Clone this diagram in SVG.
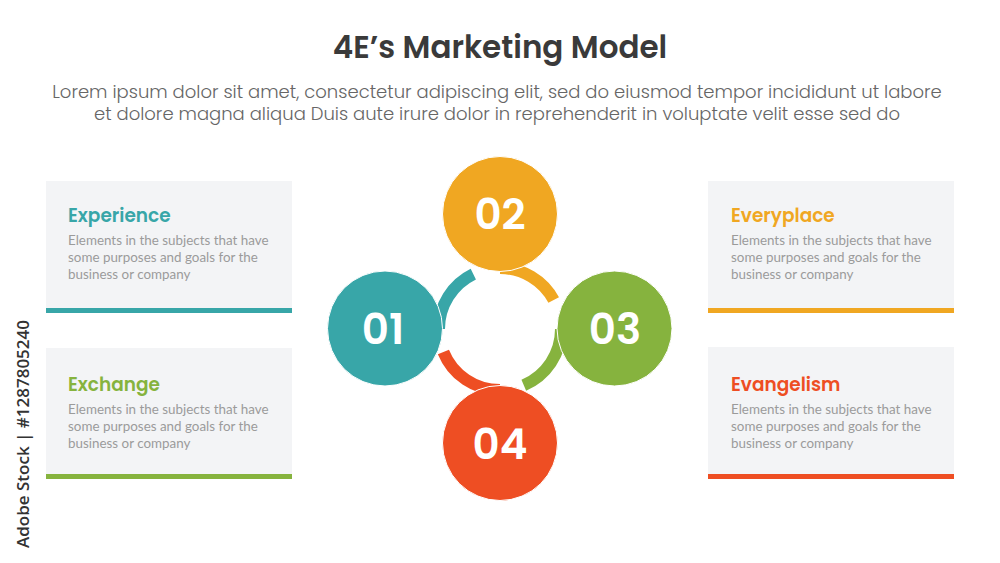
<svg xmlns="http://www.w3.org/2000/svg" width="1000" height="563" viewBox="0 0 1000 563">
<style>
.title{font-family:Poppins,"Open Sans","Liberation Sans",sans-serif;font-weight:600;font-size:31px;fill:#3a3a3a}
.sub{font-family:Poppins,"Open Sans","Liberation Sans",sans-serif;font-weight:300;font-size:18px;fill:#666}
.box{fill:#f3f4f6}
.head{font-family:Poppins,"Open Sans","Liberation Sans",sans-serif;font-weight:600;font-size:18.5px}
.desc{font-family:Lato,"Liberation Sans",sans-serif;font-size:13.4px;fill:#9b9b9b}
.num{font-family:Poppins,"Open Sans","Liberation Sans",sans-serif;font-weight:600;font-size:42px;fill:#fff;text-anchor:middle}
.arc{fill:none;stroke-width:12}
.wm{font-family:"Open Sans","Liberation Sans",sans-serif;font-weight:600;font-size:17px;fill:#333}
</style>
<rect width="1000" height="563" fill="#fff"/>
<text class="title" x="500" y="58" text-anchor="middle">4E’s Marketing Model</text>
<text class="sub" x="497" y="98" text-anchor="middle">Lorem ipsum dolor sit amet, consectetur adipiscing elit, sed do eiusmod tempor incididunt ut labore</text>
<text class="sub" x="497" y="120" text-anchor="middle">et dolore magna aliqua Duis aute irure dolor in reprehenderit in voluptate velit esse sed do</text>
<text class="wm" transform="translate(29,548) rotate(-90)">Adobe Stock | #1287805240</text>

<g id="connectors">
<path class="arc" stroke="#38a6a8" d="M439,329 A61,61 0 0 1 473.3,274.2"/>
<path class="arc" stroke="#f0a722" d="M500,268 A61,61 0 0 1 553.7,300"/>
<path class="arc" stroke="#86b33e" d="M561,329 A61,61 0 0 1 523.8,385.2"/>
<path class="arc" stroke="#ee4e23" d="M500,390 A61,61 0 0 1 443.4,351.9"/>
</g>

<g id="node-01"><circle cx="385" cy="328.5" r="57.5" fill="#38a6a8" stroke="#fff" stroke-width="1"/><text class="num" x="383" y="344">01</text></g>
<g id="node-02"><circle cx="500" cy="214" r="57.5" fill="#f0a722" stroke="#fff" stroke-width="1"/><text class="num" x="500" y="229">02</text></g>
<g id="node-03"><circle cx="614.5" cy="328.5" r="57.5" fill="#86b33e" stroke="#fff" stroke-width="1"/><text class="num" x="615" y="344">03</text></g>
<g id="node-04"><circle cx="500" cy="443" r="57.5" fill="#ee4e23" stroke="#fff" stroke-width="1"/><text class="num" x="500" y="459">04</text></g>

<g id="box-experience">
<rect class="box" x="46" y="181" width="246" height="130"/>
<rect x="46" y="308" width="246" height="5" fill="#38a6a8"/>
<text class="head" x="68" y="222" fill="#38a6a8">Experience</text>
<text class="desc" x="68" y="245">Elements in the subjects that have</text>
<text class="desc" x="68" y="262">some purposes and goals for the</text>
<text class="desc" x="68" y="279">business or company</text>
</g>
<g id="box-exchange">
<rect class="box" x="46" y="348" width="246" height="129"/>
<rect x="46" y="474" width="246" height="5" fill="#86b33e"/>
<text class="head" x="68" y="391" fill="#86b33e">Exchange</text>
<text class="desc" x="68" y="414">Elements in the subjects that have</text>
<text class="desc" x="68" y="431">some purposes and goals for the</text>
<text class="desc" x="68" y="448">business or company</text>
</g>
<g id="box-everyplace">
<rect class="box" x="708" y="181" width="246" height="130"/>
<rect x="708" y="308" width="246" height="5" fill="#f0a722"/>
<text class="head" x="731" y="222" fill="#f0a722">Everyplace</text>
<text class="desc" x="731" y="245">Elements in the subjects that have</text>
<text class="desc" x="731" y="262">some purposes and goals for the</text>
<text class="desc" x="731" y="279">business or company</text>
</g>
<g id="box-evangelism">
<rect class="box" x="708" y="347" width="246" height="130"/>
<rect x="708" y="474" width="246" height="5" fill="#ee4e23"/>
<text class="head" x="731" y="391" fill="#ee4e23">Evangelism</text>
<text class="desc" x="731" y="414">Elements in the subjects that have</text>
<text class="desc" x="731" y="431">some purposes and goals for the</text>
<text class="desc" x="731" y="448">business or company</text>
</g>
</svg>
